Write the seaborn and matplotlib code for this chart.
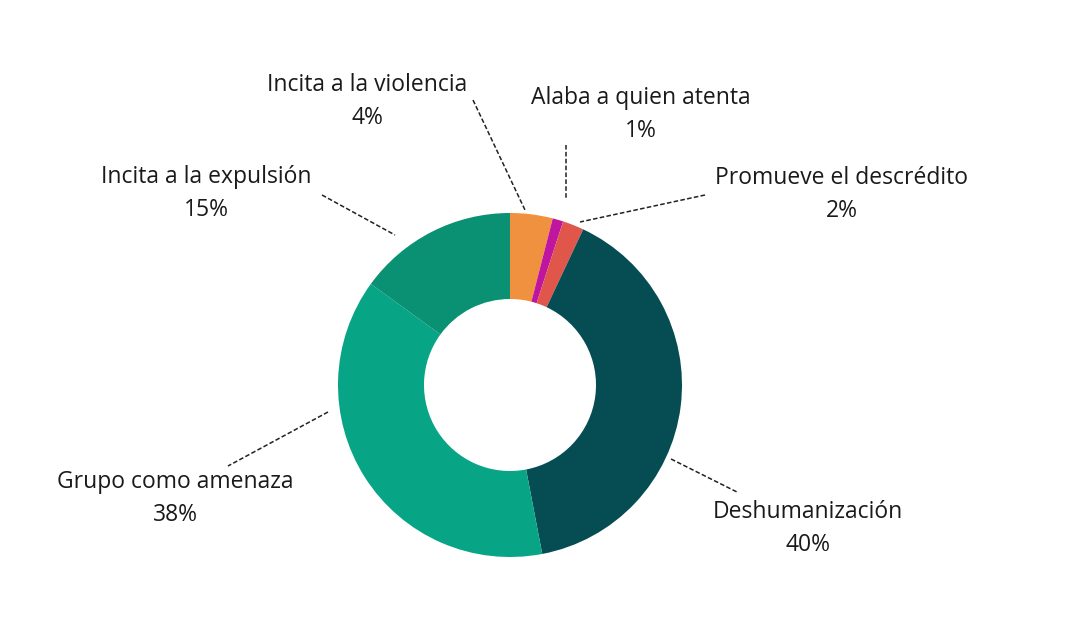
import matplotlib
matplotlib.use("Agg")
import matplotlib.pyplot as plt
import seaborn as sns

# datos (orden horario desde las 12)
categorias = ["Incita a la violencia", "Alaba a quien atenta", "Promueve el descrédito",
              "Deshumanización", "Grupo como amenaza", "Incita a la expulsión"]
porcentajes = [4, 1, 2, 40, 38, 15]
colores = ["#f0913f", "#c0169f", "#e0564b", "#064c53", "#07a585", "#0a9073"]

sns.set_theme(style="white")
plt.rcParams["font.family"] = ["Open Sans", "DejaVu Sans"]

W, H = 1068, 617
cx, cy, R = 510, 385, 172  # centro y radio en pixeles


def px(x, y):
    # pixel de la imagen -> coordenadas de datos (radio 1)
    return (x - cx) / R, (cy - y) / R


fig = plt.figure(figsize=(W / 100, H / 100), dpi=100)
ax = fig.add_axes([0, 0, 1, 1])
ax.pie(porcentajes, colors=sns.color_palette(colores), startangle=90, counterclock=False,
       radius=1, wedgeprops=dict(width=0.5, edgecolor="none"))
ax.set_xlim(-cx / R, (W - cx) / R)
ax.set_ylim(-(H - cy) / R, cy / R)
ax.set_aspect("equal")
ax.axis("off")

# posicion de etiquetas y lineas guia (pixeles)
etiquetas_pos = [(367, 85), (641, 98), (842, 178), (808, 512), (175, 482), (206, 177)]
lineas = [((473, 100), (525, 210)), ((566, 145), (566, 200)), ((705, 195), (580, 222)),
          ((671, 459), (737, 492)), ((328, 412), (228, 466)), ((322, 195), (395, 235))]

for cat, val, (lx, ly), (p0, p1) in zip(categorias, porcentajes, etiquetas_pos, lineas):
    x0, y0 = px(*p0)
    x1, y1 = px(*p1)
    ax.plot([x0, x1], [y0, y1], color="#222222", lw=1.1, ls=(0, (3, 1.5)))
    tx, ty = px(lx, ly)
    ax.text(tx, ty, cat, ha="center", va="center", fontsize=16.5, color="#1a1a1a")
    tx2, ty2 = px(lx, ly + 33)
    ax.text(tx2, ty2, f"{val}%", ha="center", va="center", fontsize=16.5, color="#1a1a1a")

fig.savefig("out.png", dpi=100, facecolor="white")
